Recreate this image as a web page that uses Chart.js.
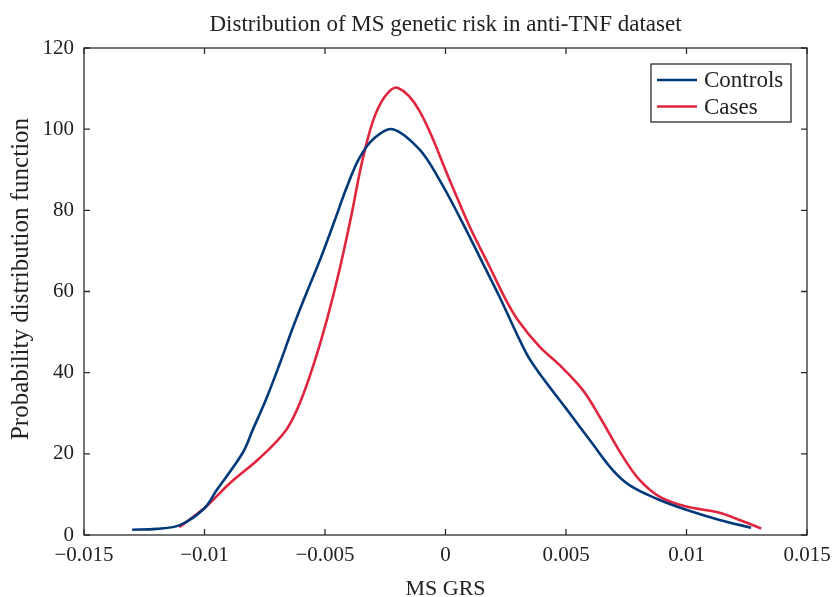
<!DOCTYPE html>
<html lang="en">
<head>
<meta charset="UTF-8">
<title>Distribution of MS genetic risk in anti-TNF dataset</title>
<script src="https://cdn.jsdelivr.net/npm/chart.js"></script>
<style>
    html, body { margin: 0; padding: 0; background: #fff; }
    #wrap { width: 834px; height: 597px; position: relative; }
</style>
</head>
<body>
<div id="wrap"><canvas id="grafico"></canvas></div>
<script>
    // values
    const controlsX = [-0.013, -0.012, -0.011, -0.010, -0.0095, -0.00842, -0.008, -0.00744, -0.00689, -0.00634, -0.00577, -0.00516, -0.00461, -0.00411, -0.00357, -0.00295, -0.00219, -0.00108, -0.00025, 0.00058, 0.00141, 0.00224, 0.00335, 0.0039, 0.005, 0.00611, 0.00694, 0.00763, 0.00874, 0.00999, 0.01137, 0.01268];
    const controlsY = [1.3, 1.5, 2.5, 6.6, 11, 20.2, 25.9, 33.5, 42, 51, 59.6, 68.5, 77.3, 85.5, 92.9, 97.8, 100, 95, 87.5, 78.4, 68.6, 58.7, 44.8, 39.8, 31.2, 22.4, 16, 12.3, 9, 6.2, 3.7, 1.8];

    const casesX = [-0.01104, -0.00993, -0.00896, -0.00772, -0.00661, -0.00599, -0.00544, -0.0049, -0.0044, -0.0039, -0.00349, -0.00302, -0.00253, -0.00199, -0.00108, 0.00017, 0.001, 0.00183, 0.0025, 0.003, 0.0039, 0.00473, 0.0057, 0.00639, 0.00736, 0.00805, 0.0089, 0.00999, 0.01137, 0.0122, 0.0131];
    const casesY = [1.9, 7, 12.7, 18.9, 25.9, 33.3, 42.6, 53.5, 65.3, 78.9, 91.2, 101.8, 107.9, 110.2, 104.5, 87.5, 76, 66.1, 58, 53, 46.4, 41.9, 35.7, 29.2, 19.3, 13.6, 9.4, 7.0, 5.5, 3.7, 1.6];

    const xTicks = [-0.015, -0.01, -0.005, 0, 0.005, 0.01, 0.015];
    const yTicks = [0, 20, 40, 60, 80, 100, 120];

    const titulo = "Distribution of MS genetic risk in anti-TNF dataset";
    const tituloX = "MS GRS";
    const tituloY = "Probability distribution function";
    const nomes = ["Controls", "Cases"];
    const cores = ["#00397a", "#e0263f"];

    const serif = "'Liberation Serif', 'DejaVu Serif', serif";

    function pares(xs, ys) {
        return xs.map((x, i) => ({ x: x, y: ys[i] }));
    }

    function rotulo(v) {
        if (v === 0) return "0";
        const s = String(Math.abs(v));
        return v < 0 ? "\u2212" + s : s;
    }

    // frame, inward ticks, title, axis titles and legend box
    const moldura = {
        id: "moldura",
        afterDraw(chart) {
            const ctx = chart.ctx;
            const a = chart.chartArea;
            const sx = chart.scales.x, sy = chart.scales.y;
            ctx.save();
            ctx.strokeStyle = "#2b2b2b";
            ctx.lineWidth = 1.3;
            ctx.strokeRect(a.left, a.top, a.right - a.left, a.bottom - a.top);
            ctx.beginPath();
            xTicks.forEach(t => {
                const p = sx.getPixelForValue(t);
                ctx.moveTo(p, a.bottom); ctx.lineTo(p, a.bottom - 6);
                ctx.moveTo(p, a.top); ctx.lineTo(p, a.top + 6);
            });
            yTicks.forEach(t => {
                const p = sy.getPixelForValue(t);
                ctx.moveTo(a.left, p); ctx.lineTo(a.left + 6, p);
                ctx.moveTo(a.right, p); ctx.lineTo(a.right - 6, p);
            });
            ctx.stroke();

            ctx.fillStyle = "#222";
            ctx.textAlign = "center";
            ctx.textBaseline = "alphabetic";
            ctx.font = "23px " + serif;
            ctx.fillText(titulo, (a.left + a.right) / 2, 31);
            ctx.font = "22px " + serif;
            ctx.fillText(tituloX, (a.left + a.right) / 2, 595);
            ctx.save();
            ctx.translate(28, 279);
            ctx.rotate(-Math.PI / 2);
            ctx.font = "25px " + serif;
            ctx.fillText(tituloY, 0, 0);
            ctx.restore();

            // legend
            const lx = 651, ly = 64, lw = 140, lh = 58;
            ctx.fillStyle = "#fff";
            ctx.fillRect(lx, ly, lw, lh);
            ctx.strokeStyle = "#2b2b2b";
            ctx.lineWidth = 1.3;
            ctx.strokeRect(lx, ly, lw, lh);
            ctx.font = "23px " + serif;
            ctx.textAlign = "left";
            ctx.textBaseline = "middle";
            nomes.forEach((n, i) => {
                const yy = 80 + i * 26.5;
                ctx.strokeStyle = cores[i];
                ctx.lineWidth = 2.6;
                ctx.beginPath();
                ctx.moveTo(657, yy); ctx.lineTo(697, yy);
                ctx.stroke();
                ctx.fillStyle = "#222";
                ctx.fillText(n, 704, yy + 1);
            });
            ctx.restore();
        }
    };

    const ctx = document.getElementById("grafico").getContext("2d");
    new Chart(ctx, {
        type: "scatter",
        data: {
            datasets: [
                { label: nomes[0], data: pares(controlsX, controlsY), showLine: true, borderColor: cores[0], borderWidth: 2.6, pointRadius: 0, tension: 0.35 },
                { label: nomes[1], data: pares(casesX, casesY), showLine: true, borderColor: cores[1], borderWidth: 2.6, pointRadius: 0, tension: 0.35 }
            ]
        },
        options: {
            responsive: true,
            maintainAspectRatio: false,
            animation: false,
            layout: { padding: { top: 48, right: 27, left: 0, bottom: 0 } },
            plugins: {
                legend: { display: false },
                title: { display: false },
                tooltip: { enabled: false }
            },
            scales: {
                x: {
                    type: "linear",
                    min: -0.015, max: 0.015,
                    afterBuildTicks: s => { s.ticks = xTicks.map(v => ({ value: v })); },
                    afterFit: s => { s.height = 62; s.paddingLeft = 0; s.paddingRight = 0; },
                    grid: { display: false, drawTicks: false },
                    border: { display: false },
                    ticks: { callback: rotulo, color: "#222", padding: 8, maxRotation: 0, font: { family: serif, size: 21 } }
                },
                y: {
                    min: 0, max: 120,
                    afterBuildTicks: s => { s.ticks = yTicks.map(v => ({ value: v })); },
                    afterFit: s => { s.width = 84; s.paddingTop = 0; s.paddingBottom = 0; },
                    grid: { display: false, drawTicks: false },
                    border: { display: false },
                    ticks: { color: "#222", padding: 10, font: { family: serif, size: 21 } }
                }
            }
        },
        plugins: [moldura]
    });
</script>
</body>
</html>
